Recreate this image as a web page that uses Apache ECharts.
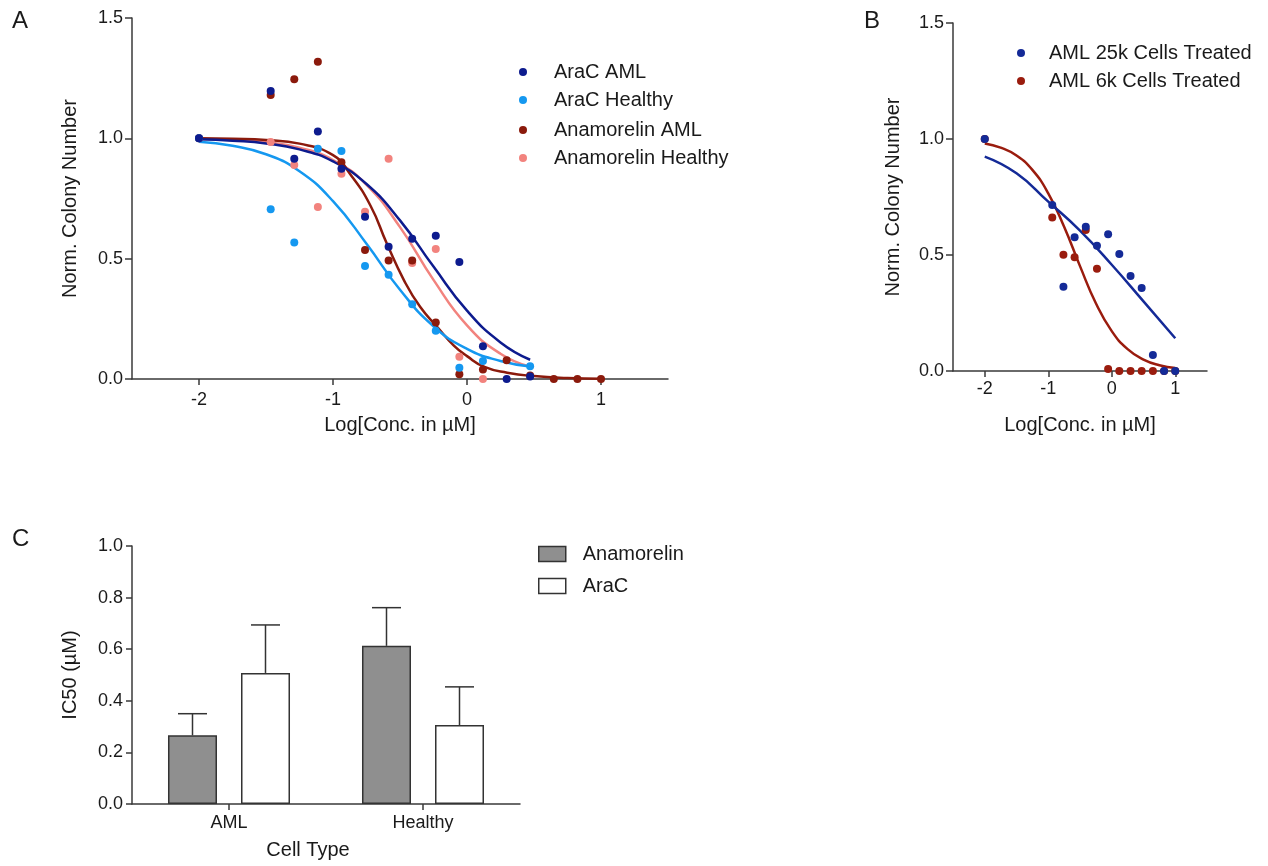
<!DOCTYPE html>
<html>
<head>
<meta charset="utf-8">
<script src="https://cdn.jsdelivr.net/npm/echarts@6.0.0/dist/echarts.min.js"></script>
<style>
  html, body { margin: 0; padding: 0; background: #ffffff; }
  #chart { width: 1268px; height: 866px; }
</style>
</head>
<body>
<div id="chart"></div>
<script>
// ---------- Panel A: colony assay, AraC vs Anamorelin ----------
// log10 of concentration in µM (1.5-fold dilution series, -2 = vehicle)
const logConcA = [-2, -1.465, -1.289, -1.113, -0.937, -0.761, -0.585, -0.409, -0.233, -0.057, 0.119, 0.296, 0.471, 0.648, 0.824, 1.0];
const araCAml          = [1.0, 1.197, 0.915, 1.028, 0.874, 0.674, 0.550, 0.583, 0.595, 0.486, 0.136, 0.000, 0.010, null, null, null];
const araCHealthy      = [1.0, 0.705, 0.567, 0.957, 0.947, 0.470, 0.433, 0.311, 0.200, 0.047, 0.075, null, 0.053, null, null, null];
const anamorelinAml    = [1.0, 1.180, 1.245, 1.318, 0.901, 0.536, 0.492, 0.492, 0.235, 0.020, 0.039, 0.078, 0.015, 0.0, 0.0, 0.0];
const anamorelinHealthy= [1.0, 0.985, 0.889, 0.715, 0.853, 0.695, 0.915, 0.482, 0.540, 0.092, 0.000, null, null, null, null, null];

// dose-response fit curves
const fitXA            = [-2, -1.75, -1.5, -1.25, -1.0, -0.75, -0.5, -0.25, 0, 0.25, 0.471];
const araCAmlFit       = [0.996, 0.990, 0.979, 0.954, 0.904, 0.810, 0.659, 0.467, 0.284, 0.152, 0.080];
const araCHealthyFit   = [0.986, 0.969, 0.934, 0.863, 0.739, 0.562, 0.371, 0.219, 0.125, 0.075, 0.052];
const anamHealthyFit   = [0.997, 0.993, 0.984, 0.961, 0.910, 0.807, 0.631, 0.412, 0.223, 0.105, 0.051];
const fitXAnamAml      = [-2, -1.75, -1.5, -1.25, -1.0, -0.87, -0.72, -0.6, -0.47, -0.35, -0.22, -0.1, 0, 0.13, 0.3, 0.5, 0.75, 1.0];
const anamAmlFit       = [1.0, 0.998, 0.993, 0.978, 0.930, 0.850, 0.720, 0.565, 0.410, 0.300, 0.215, 0.140, 0.095, 0.050, 0.026, 0.012, 0.004, 0.001];

// ---------- Panel B: AML seeding density ----------
const logConcB   = [-2, -0.937, -0.761, -0.585, -0.409, -0.233, -0.057, 0.119, 0.296, 0.471, 0.648, 0.824, 1.0];
const aml25k     = [1.0, 0.716, 0.363, 0.576, 0.622, 0.540, 0.589, 0.504, 0.410, 0.358, 0.069, 0.0, 0.0];
const aml6k      = [1.0, 0.662, 0.501, 0.490, 0.608, 0.441, 0.009, 0.0, 0.0, 0.0, 0.0, 0.0, 0.0];
const fitX25k    = [-2, -1.5, -1.0, -0.5, 0, 0.5, 1.0];
const aml25kFit  = [0.924, 0.852, 0.730, 0.605, 0.458, 0.300, 0.141];
const fitX6k     = [-2, -1.75, -1.5, -1.25, -1.0, -0.75, -0.5, -0.25, 0, 0.25, 0.5, 0.75, 1.0];
const aml6kFit   = [0.981, 0.963, 0.929, 0.867, 0.766, 0.622, 0.452, 0.292, 0.172, 0.094, 0.049, 0.025, 0.013];

// shared tick positions for the log axes
const logTicks = [-2, -1, 0, 1];

// ---------- Panel C: IC50 summary ----------
const cellTypes        = ['AML', 'Healthy'];
const ic50Anamorelin   = [0.266, 0.613];
const ic50AnamorelinErr= [0.084, 0.148];
const ic50AraC         = [0.508, 0.306];
const ic50AraCErr      = [0.186, 0.148];

const FONT = 'Liberation Sans, Arial, Helvetica, sans-serif';
const INK = '#1a1a1a';
const AXIS = '#3a3a3a';

const C_ARAC_AML = '#0d1b8e';
const C_ARAC_HEALTHY = '#1598f0';
const C_ANAM_AML = '#8b1a0c';
const C_ANAM_HEALTHY = '#f2837e';
const C_25K = '#142a97';
const C_6K = '#9a1c0e';

function pairs(xs, ys) {
  const out = [];
  xs.forEach((x, i) => { if (ys[i] !== null && ys[i] !== undefined) out.push([x, ys[i]]); });
  return out;
}

function logAxis(gridIndex, labelMargin, nameGap) {
  return {
    type: 'value', gridIndex, min: -2.5, max: 1.5,
    axisLine: { show: true, onZero: false, lineStyle: { color: AXIS, width: 1.5 } },
    axisTick: { show: true, length: 6, customValues: logTicks, lineStyle: { color: AXIS, width: 1.5 } },
    axisLabel: { customValues: logTicks, fontSize: 18, color: INK, fontFamily: FONT, margin: labelMargin },
    splitLine: { show: false },
    name: 'Log[Conc. in µM]', nameLocation: 'middle', nameGap,
    nameTextStyle: { fontSize: 20, color: INK, fontFamily: FONT }
  };
}

function normAxis(gridIndex, nameGap) {
  return {
    type: 'value', gridIndex, min: 0, max: 1.5, interval: 0.5,
    axisLine: { show: true, onZero: false, lineStyle: { color: AXIS, width: 1.5 } },
    axisTick: { show: true, length: 7, lineStyle: { color: AXIS, width: 1.5 } },
    axisLabel: { fontSize: 18, color: INK, fontFamily: FONT, margin: 9, formatter: v => v.toFixed(1) },
    splitLine: { show: false },
    name: 'Norm. Colony Number', nameLocation: 'middle', nameGap, nameRotate: 90,
    nameTextStyle: { fontSize: 20, color: INK, fontFamily: FONT }
  };
}

function scatter(name, xs, ys, color, xi, z) {
  return {
    name, type: 'scatter', xAxisIndex: xi, yAxisIndex: xi,
    data: pairs(xs, ys), symbol: 'circle', symbolSize: 8,
    itemStyle: { color, opacity: 1 }, z
  };
}

function fitLine(name, xs, ys, color, xi, z) {
  return {
    name, type: 'line', xAxisIndex: xi, yAxisIndex: xi,
    data: pairs(xs, ys), showSymbol: false, smooth: 0.5,
    lineStyle: { color, width: 2.5 }, z
  };
}

function pointLegend(name, color, left, top, textPad) {
  return {
    data: [{ name, icon: 'circle', itemStyle: { color, opacity: 1 } }],
    left, top, padding: 0, itemWidth: 8, itemHeight: 8, selectedMode: false,
    textStyle: { fontSize: 20, color: INK, fontFamily: FONT, padding: [0, 0, 0, textPad] }
  };
}

function boxLegend(name, color, top) {
  return {
    data: [{ name, icon: 'rect', itemStyle: { color, borderColor: '#333', borderWidth: 1.5 } }],
    left: 538, top, padding: 0, itemWidth: 27, itemHeight: 15, selectedMode: false,
    textStyle: { fontSize: 20, color: INK, fontFamily: FONT, padding: [0, 0, 0, 12] }
  };
}

// upper error bar with a cap, shifted to the bar's slot inside its category
function errorSeries(values, errs, shift) {
  return {
    type: 'custom', xAxisIndex: 2, yAxisIndex: 2, z: 1,
    data: values.map((v, i) => [i, v, errs[i]]),
    renderItem: (params, api) => {
      const base = api.coord([api.value(0), api.value(1)]);
      const top = api.coord([api.value(0), api.value(1) + api.value(2)]);
      const x = base[0] + shift;
      const st = { stroke: '#333', lineWidth: 1.5 };
      return {
        type: 'group',
        children: [
          { type: 'line', shape: { x1: x, y1: base[1], x2: x, y2: top[1] }, style: st },
          { type: 'line', shape: { x1: x - 14.5, y1: top[1], x2: x + 14.5, y2: top[1] }, style: st }
        ]
      };
    }
  };
}

const option = {
  animation: false,
  backgroundColor: '#ffffff',
  textStyle: { fontFamily: FONT },
  grid: [
    { left: 132, top: 18, width: 536, height: 361 },
    { left: 953, top: 23, width: 254, height: 348 },
    { left: 132, top: 546, width: 388, height: 258 }
  ],
  xAxis: [
    logAxis(0, 12, 36),
    logAxis(1, 9, 44),
    {
      type: 'category', gridIndex: 2, data: cellTypes,
      axisLine: { show: true, lineStyle: { color: AXIS, width: 1.5 } },
      axisTick: { show: true, alignWithLabel: true, length: 6, lineStyle: { color: AXIS, width: 1.5 } },
      axisLabel: { fontSize: 18, color: INK, fontFamily: FONT, margin: 10 },
      name: 'Cell Type', nameLocation: 'middle', nameGap: 36,
      nameTextStyle: { fontSize: 20, color: INK, fontFamily: FONT, padding: [0, 36, 0, 0] }
    }
  ],
  yAxis: [
    normAxis(0, 52),
    normAxis(1, 50),
    {
      type: 'value', gridIndex: 2, min: 0, max: 1, interval: 0.2,
      axisLine: { show: true, onZero: false, lineStyle: { color: AXIS, width: 1.5 } },
      axisTick: { show: true, length: 6, lineStyle: { color: AXIS, width: 1.5 } },
      axisLabel: { fontSize: 18, color: INK, fontFamily: FONT, margin: 9, formatter: v => v.toFixed(1) },
      splitLine: { show: false },
      name: 'IC50 (µM)', nameLocation: 'middle', nameGap: 52, nameRotate: 90,
      nameTextStyle: { fontSize: 20, color: INK, fontFamily: FONT }
    }
  ],
  legend: [
    pointLegend('AraC AML', C_ARAC_AML, 519, 62, 22),
    pointLegend('AraC Healthy', C_ARAC_HEALTHY, 519, 90, 22),
    pointLegend('Anamorelin AML', C_ANAM_AML, 519, 120, 22),
    pointLegend('Anamorelin Healthy', C_ANAM_HEALTHY, 519, 148, 22),
    pointLegend('AML 25k Cells Treated', C_25K, 1017, 43, 19),
    pointLegend('AML 6k Cells Treated', C_6K, 1017, 71, 19),
    boxLegend('Anamorelin', '#8f8f8f', 544),
    boxLegend('AraC', '#ffffff', 576)
  ],
  graphic: [
    { type: 'text', left: 12, top: 9, style: { text: 'A', fontSize: 24, fill: INK, fontFamily: FONT } },
    { type: 'text', left: 864, top: 9, style: { text: 'B', fontSize: 24, fill: INK, fontFamily: FONT } },
    { type: 'text', left: 12, top: 527, style: { text: 'C', fontSize: 24, fill: INK, fontFamily: FONT } }
  ],
  series: [
    // Panel A curves
    fitLine('Anamorelin Healthy fit', fitXA, anamHealthyFit, C_ANAM_HEALTHY, 0, 2),
    fitLine('Anamorelin AML fit', fitXAnamAml, anamAmlFit, C_ANAM_AML, 0, 2),
    fitLine('AraC Healthy fit', fitXA, araCHealthyFit, C_ARAC_HEALTHY, 0, 2),
    fitLine('AraC AML fit', fitXA, araCAmlFit, C_ARAC_AML, 0, 2),
    // Panel A points
    scatter('Anamorelin Healthy', logConcA, anamorelinHealthy, C_ANAM_HEALTHY, 0, 3),
    scatter('Anamorelin AML', logConcA, anamorelinAml, C_ANAM_AML, 0, 3),
    scatter('AraC Healthy', logConcA, araCHealthy, C_ARAC_HEALTHY, 0, 3),
    scatter('AraC AML', logConcA, araCAml, C_ARAC_AML, 0, 3),
    // Panel B
    fitLine('AML 6k fit', fitX6k, aml6kFit, C_6K, 1, 2),
    fitLine('AML 25k fit', fitX25k, aml25kFit, C_25K, 1, 2),
    scatter('AML 6k Cells Treated', logConcB, aml6k, C_6K, 1, 3),
    scatter('AML 25k Cells Treated', logConcB, aml25k, C_25K, 1, 3),
    // Panel C
    {
      name: 'Anamorelin', type: 'bar', xAxisIndex: 2, yAxisIndex: 2,
      data: ic50Anamorelin, barWidth: 49, barGap: '49%',
      itemStyle: { color: '#8f8f8f', borderColor: '#333', borderWidth: 1.5 }, z: 2
    },
    {
      name: 'AraC', type: 'bar', xAxisIndex: 2, yAxisIndex: 2,
      data: ic50AraC, barWidth: 49, barGap: '49%',
      itemStyle: { color: '#ffffff', borderColor: '#333', borderWidth: 1.5 }, z: 2
    },
    errorSeries(ic50Anamorelin, ic50AnamorelinErr, -36.5),
    errorSeries(ic50AraC, ic50AraCErr, 36.5)
  ]
};

const chart = echarts.init(document.getElementById('chart'), null, { renderer: 'canvas' });
chart.setOption(option);
</script>
</body>
</html>
